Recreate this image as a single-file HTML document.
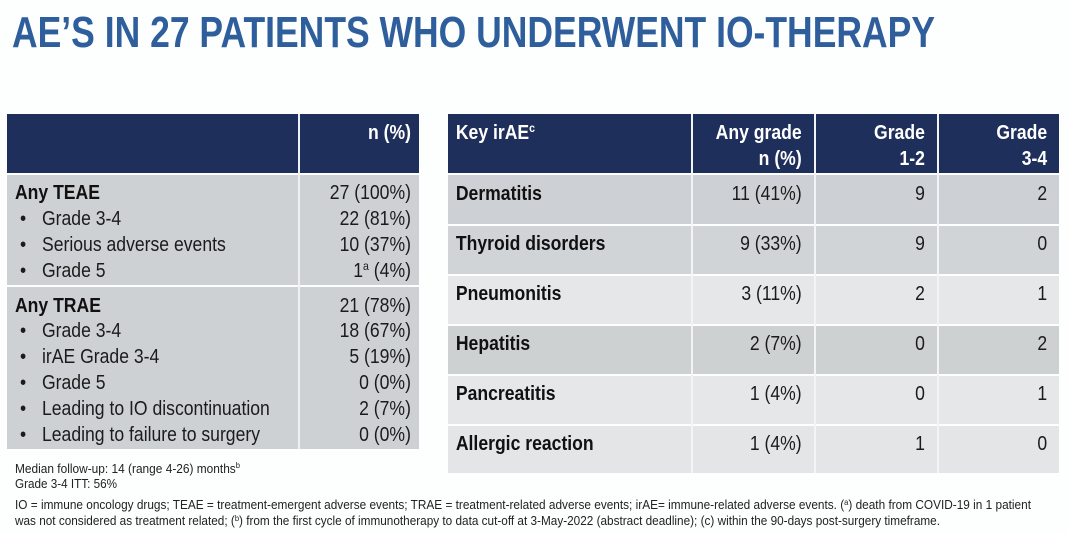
<!DOCTYPE html>
<html>
<head>
<meta charset="utf-8">
<style>
  html,body{margin:0;padding:0;background:#fdfefe;}
  svg{display:block;}
  text{font-family:"Liberation Sans",Arial,sans-serif;}
</style>
</head>
<body>
<svg width="1068" height="533" viewBox="0 0 1068 533" xmlns="http://www.w3.org/2000/svg">
  <rect x="0" y="0" width="1068" height="533" fill="#fdfefe"/>

  <!-- Title -->
  <text x="12" y="47" font-size="44" font-weight="bold" fill="#2f5e9c" textLength="923" lengthAdjust="spacingAndGlyphs">AE’S IN 27 PATIENTS WHO UNDERWENT IO-THERAPY</text>

  <!-- LEFT TABLE backgrounds -->
  <rect x="7" y="114" width="412" height="59" fill="#1f2f5b"/>
  <rect x="7" y="175" width="412" height="110" fill="#ced1d4"/>
  <rect x="7" y="287" width="412" height="162" fill="#ced1d4"/>
  <rect x="298" y="114" width="2" height="335" fill="#eef0f2"/>

  <!-- RIGHT TABLE backgrounds -->
  <rect x="448" y="114" width="611" height="59" fill="#1f2f5b"/>
  <rect x="448" y="175" width="611" height="49" fill="#cdd0d4"/>
  <rect x="448" y="226" width="611" height="48" fill="#d1d4d7"/>
  <rect x="448" y="276" width="611" height="48" fill="#e5e7e8"/>
  <rect x="448" y="326" width="611" height="48" fill="#cdd1d2"/>
  <rect x="448" y="376" width="611" height="48" fill="#e5e7e8"/>
  <rect x="448" y="426" width="611" height="47" fill="#e3e5e6"/>
  <rect x="691" y="114" width="2" height="359" fill="#f2f4f5"/>
  <rect x="814" y="114" width="2" height="359" fill="#f2f4f5"/>
  <rect x="937" y="114" width="2" height="359" fill="#f2f4f5"/>

  <!-- Table text (condensed via scale) -->
  <g transform="scale(0.88,1)" font-size="20" fill="#1b1b1b">
    <!-- Left header -->
    <text x="467" y="139" text-anchor="end" font-weight="bold" fill="#ffffff">n (%)</text>

    <!-- Left section 1 -->
    <text x="17" y="199" font-weight="bold" fill="#111">Any TEAE</text>
    <text x="467" y="199" text-anchor="end">27 (100%)</text>

    <text x="22.7" y="225">•</text>
    <text x="47.7" y="225">Grade 3-4</text>
    <text x="467" y="225" text-anchor="end">22 (81%)</text>

    <text x="22.7" y="251">•</text>
    <text x="47.7" y="251">Serious adverse events</text>
    <text x="467" y="251" text-anchor="end">10 (37%)</text>

    <text x="22.7" y="277">•</text>
    <text x="47.7" y="277">Grade 5</text>
    <text x="467" y="277" text-anchor="end">1<tspan font-size="12" dy="-7">a</tspan><tspan dy="7"> (4%)</tspan></text>

    <!-- Left section 2 -->
    <text x="17" y="312" font-weight="bold" fill="#111">Any TRAE</text>
    <text x="467" y="312" text-anchor="end">21 (78%)</text>

    <text x="22.7" y="337">•</text>
    <text x="47.7" y="337">Grade 3-4</text>
    <text x="467" y="337" text-anchor="end">18 (67%)</text>

    <text x="22.7" y="363">•</text>
    <text x="47.7" y="363">irAE Grade 3-4</text>
    <text x="467" y="363" text-anchor="end">5 (19%)</text>

    <text x="22.7" y="389">•</text>
    <text x="47.7" y="389">Grade 5</text>
    <text x="467" y="389" text-anchor="end">0 (0%)</text>

    <text x="22.7" y="415">•</text>
    <text x="47.7" y="415">Leading to IO discontinuation</text>
    <text x="467" y="415" text-anchor="end">2 (7%)</text>

    <text x="22.7" y="441">•</text>
    <text x="47.7" y="441">Leading to failure to surgery</text>
    <text x="467" y="441" text-anchor="end">0 (0%)</text>

    <!-- Right header -->
    <text x="518" y="139" font-weight="bold" fill="#ffffff">Key irAE<tspan font-size="12" dy="-7">c</tspan></text>
    <text x="911" y="139" text-anchor="end" font-weight="bold" fill="#ffffff">Any grade</text>
    <text x="911" y="165" text-anchor="end" font-weight="bold" fill="#ffffff">n (%)</text>
    <text x="1051" y="139" text-anchor="end" font-weight="bold" fill="#ffffff">Grade</text>
    <text x="1051" y="165" text-anchor="end" font-weight="bold" fill="#ffffff">1-2</text>
    <text x="1190" y="139" text-anchor="end" font-weight="bold" fill="#ffffff">Grade</text>
    <text x="1190" y="165" text-anchor="end" font-weight="bold" fill="#ffffff">3-4</text>

    <!-- Right rows -->
    <text x="518" y="200" font-weight="bold" fill="#111">Dermatitis</text>
    <text x="911" y="200" text-anchor="end">11 (41%)</text>
    <text x="1051" y="200" text-anchor="end">9</text>
    <text x="1190" y="200" text-anchor="end">2</text>

    <text x="518" y="250" font-weight="bold" fill="#111">Thyroid disorders</text>
    <text x="911" y="250" text-anchor="end">9 (33%)</text>
    <text x="1051" y="250" text-anchor="end">9</text>
    <text x="1190" y="250" text-anchor="end">0</text>

    <text x="518" y="300" font-weight="bold" fill="#111">Pneumonitis</text>
    <text x="911" y="300" text-anchor="end">3 (11%)</text>
    <text x="1051" y="300" text-anchor="end">2</text>
    <text x="1190" y="300" text-anchor="end">1</text>

    <text x="518" y="350" font-weight="bold" fill="#111">Hepatitis</text>
    <text x="911" y="350" text-anchor="end">2 (7%)</text>
    <text x="1051" y="350" text-anchor="end">0</text>
    <text x="1190" y="350" text-anchor="end">2</text>

    <text x="518" y="400" font-weight="bold" fill="#111">Pancreatitis</text>
    <text x="911" y="400" text-anchor="end">1 (4%)</text>
    <text x="1051" y="400" text-anchor="end">0</text>
    <text x="1190" y="400" text-anchor="end">1</text>

    <text x="518" y="450" font-weight="bold" fill="#111">Allergic reaction</text>
    <text x="911" y="450" text-anchor="end">1 (4%)</text>
    <text x="1051" y="450" text-anchor="end">1</text>
    <text x="1190" y="450" text-anchor="end">0</text>
  </g>

  <!-- Footnotes -->
  <g font-size="12.5" fill="#222">
    <text x="15" y="473" textLength="225" lengthAdjust="spacingAndGlyphs">Median follow-up: 14 (range 4-26) months<tspan font-size="8" dy="-5">b</tspan></text>
    <text x="15" y="488" textLength="102" lengthAdjust="spacingAndGlyphs">Grade 3-4 ITT: 56%</text>
    <text x="15" y="509" textLength="1016" lengthAdjust="spacingAndGlyphs">IO = immune oncology drugs; TEAE = treatment-emergent adverse events; TRAE = treatment-related adverse events; irAE= immune-related adverse events. (<tspan font-size="8" dy="-4">a</tspan><tspan dy="4">) death from COVID-19 in 1 patient</tspan></text>
    <text x="15" y="525" textLength="925" lengthAdjust="spacingAndGlyphs">was not considered as treatment related; (<tspan font-size="8" dy="-4">b</tspan><tspan dy="4">) from the first cycle of immunotherapy to data cut-off at 3-May-2022 (abstract deadline); (c) within the 90-days post-surgery timeframe.</tspan></text>
  </g>
</svg>
</body>
</html>
